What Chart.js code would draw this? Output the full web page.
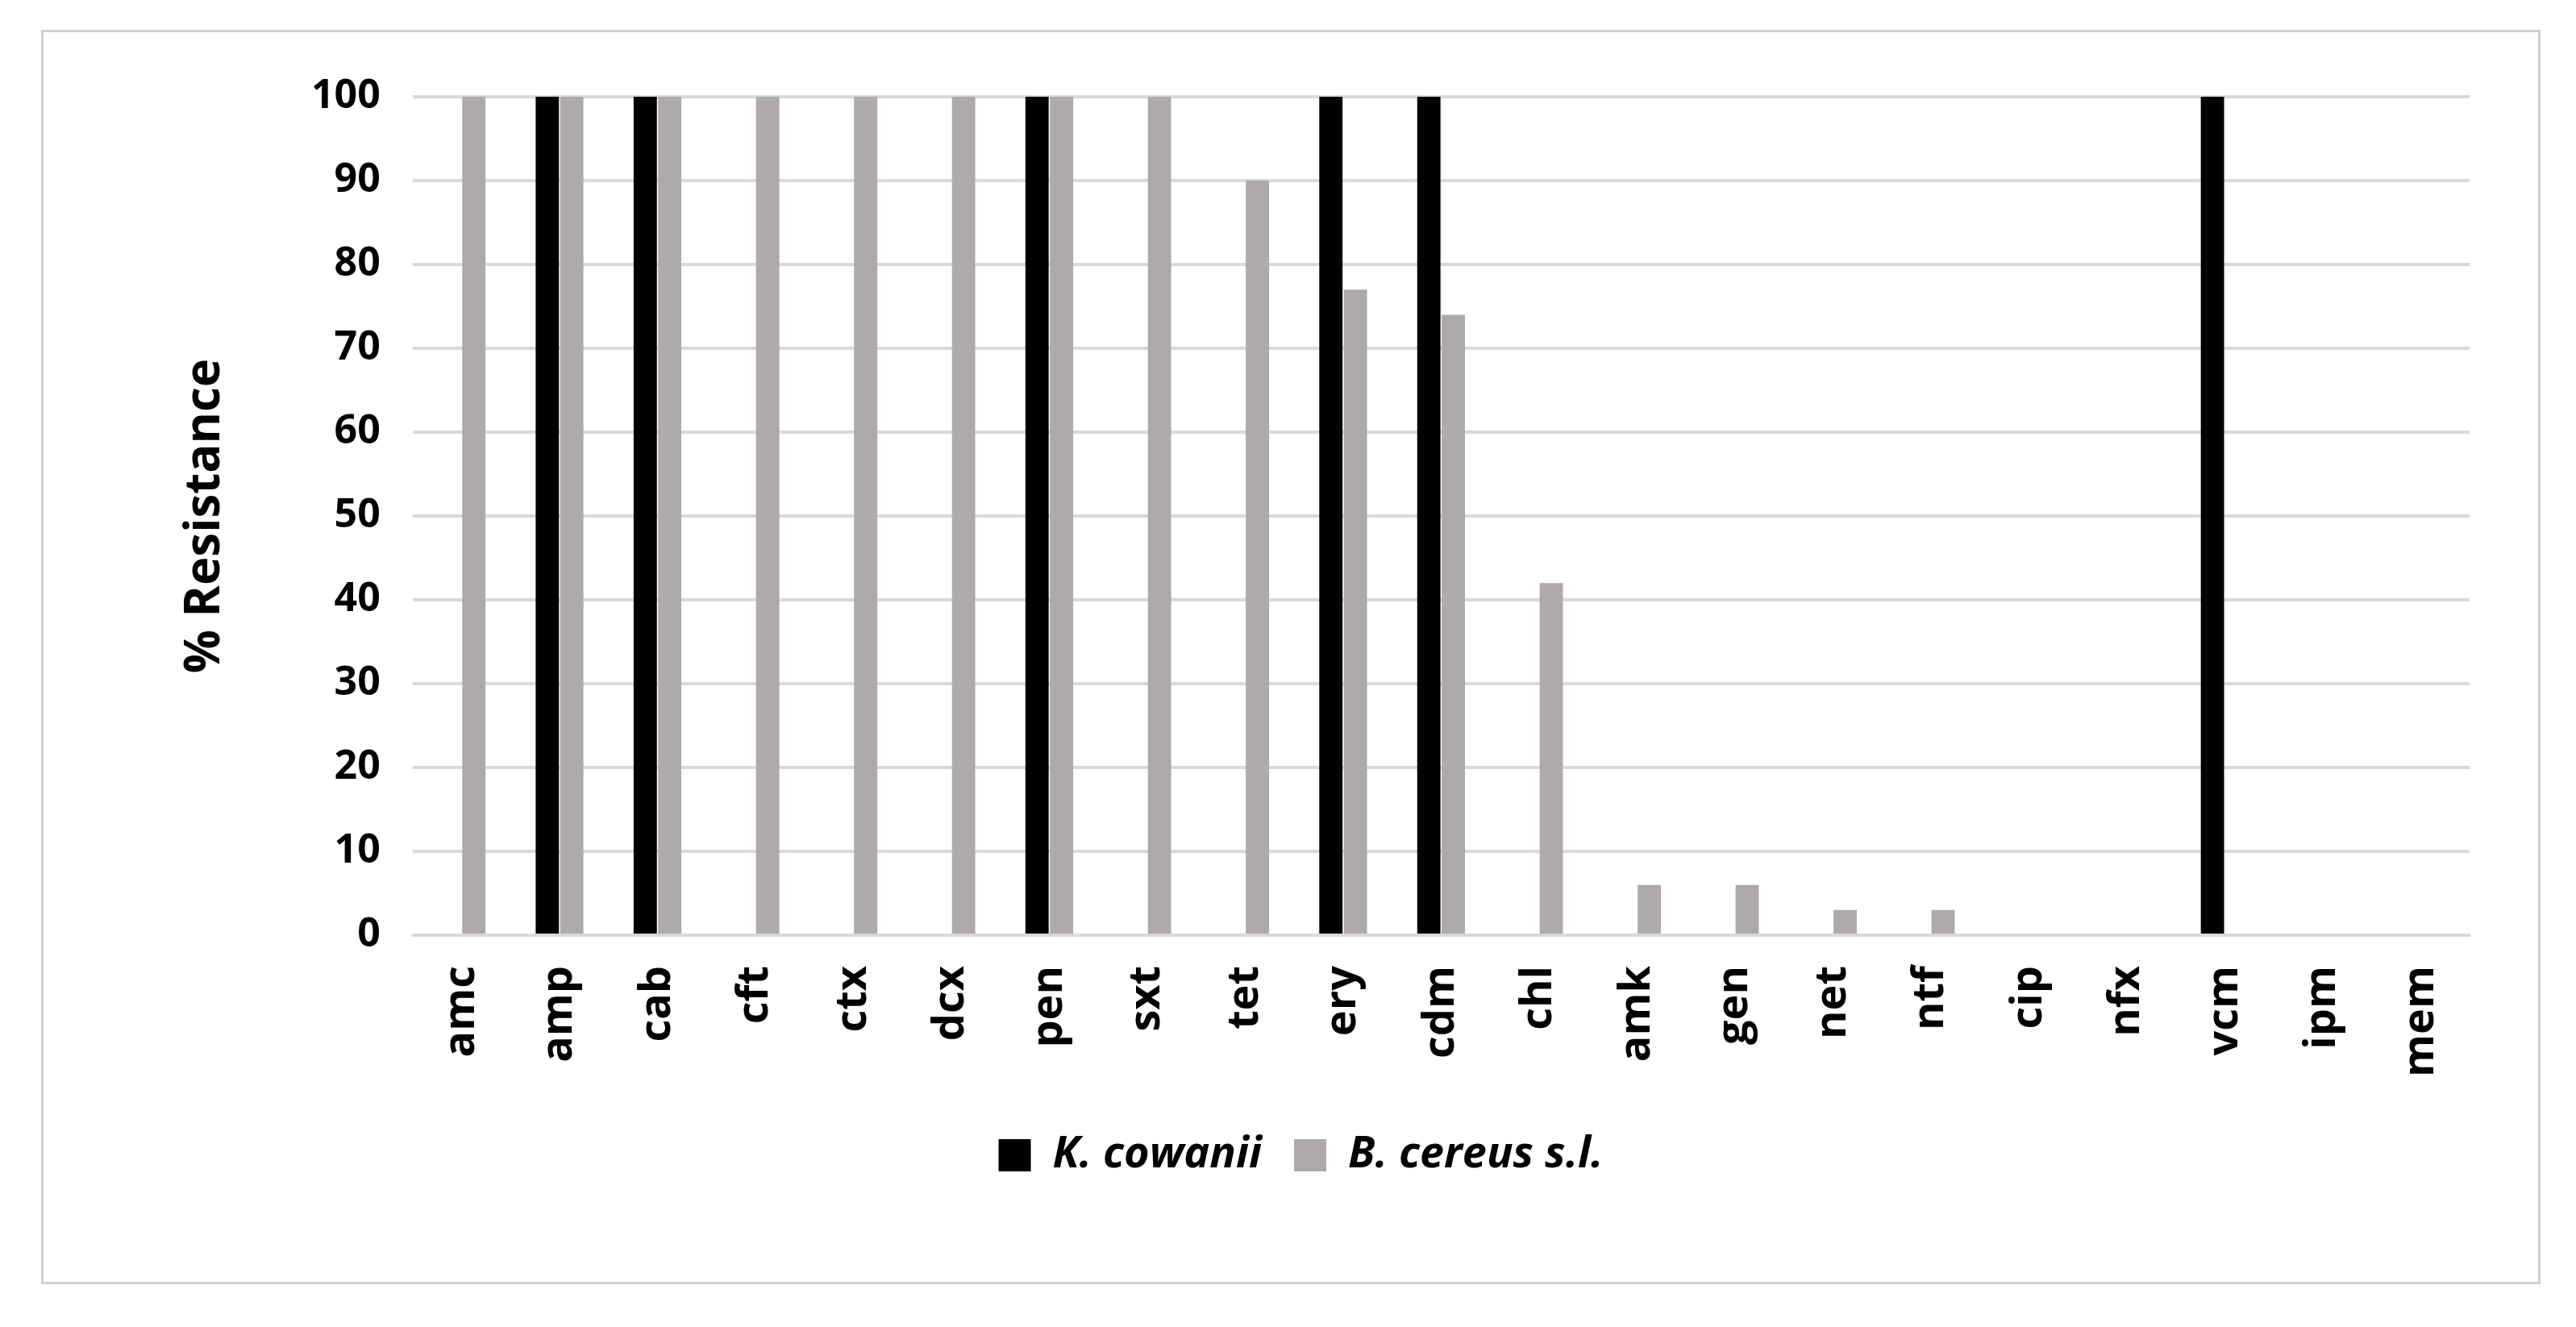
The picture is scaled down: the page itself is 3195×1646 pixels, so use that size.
<!DOCTYPE html>
<html>
<head>
<meta charset="utf-8">
<script src="https://cdn.jsdelivr.net/npm/chart.js"></script>
<style>
  html, body { margin: 0; padding: 0; background: #fff; }
  #box {
    position: absolute; left: 51px; top: 37px; width: 3100px; height: 1556px;
    border: 3px solid #d0d0d0; box-sizing: border-box;
  }
  canvas { display: block; }
</style>
</head>
<body>
<div id="box"><canvas id="myChart"></canvas></div>
<script>
const categories = ['amc', 'amp', 'cab', 'cft', 'ctx', 'dcx', 'pen', 'sxt', 'tet', 'ery', 'cdm',
    'chl', 'amk', 'gen', 'net', 'ntf', 'cip', 'nfx', 'vcm', 'ipm', 'mem'];
const cowanii = [0, 100, 100, 0, 0, 0, 100, 0, 0, 100, 100, 0, 0, 0, 0, 0, 0, 0, 100, 0, 0];
const cereus = [100, 100, 100, 100, 100, 100, 100, 100, 90, 77, 74, 42, 6, 6, 3, 3, 0, 0, 0, 0, 0];
const yTicks = [0, 10, 20, 30, 40, 50, 60, 70, 80, 90, 100];

const canvas = document.getElementById('myChart');
canvas.width = 3094;
canvas.height = 1550;
canvas.style.width = '3094px';
canvas.style.height = '1550px';

const font = "'Open Sans', 'Liberation Sans', sans-serif";

// legend sits lower, leave room above it
const legendGap = {
    id: 'legendGap',
    beforeInit(chart) {
        const fit = chart.legend.fit;
        chart.legend.fit = function () {
            fit.bind(chart.legend)();
            this.height += 60;
        };
    }
};

new Chart(canvas.getContext('2d'), {
    type: 'bar',
    data: {
        labels: categories,
        datasets: [{
            label: 'K. cowanii',
            data: cowanii,
            backgroundColor: '#000000',
            categoryPercentage: 0.5,
            barPercentage: 0.95
        }, {
            label: 'B. cereus s.l.',
            data: cereus,
            backgroundColor: '#aeaaaa',
            categoryPercentage: 0.5,
            barPercentage: 0.95
        }]
    },
    options: {
        responsive: false,
        animation: false,
        layout: { padding: { left: 110, right: 85, top: 80, bottom: 60 } },
        plugins: {
            legend: {
                position: 'bottom',
                labels: {
                    boxWidth: 40, boxHeight: 40, padding: 40,
                    color: '#000',
                    font: { family: font, size: 54, weight: 'bold', style: 'italic' }
                }
            },
            tooltip: { enabled: false }
        },
        scales: {
            x: {
                grid: { display: false },
                border: { color: '#d9d9d9', width: 3 },
                ticks: {
                    color: '#000', maxRotation: 90, minRotation: 90, padding: 30,
                    font: { family: font, size: 54, weight: 'bold' }
                }
            },
            y: {
                min: 0, max: 100,
                afterBuildTicks: axis => { axis.ticks = yTicks.map(v => ({ value: v })); },
                grid: { color: '#d9d9d9', lineWidth: 4, drawTicks: false },
                border: { display: false },
                ticks: {
                    color: '#000', padding: 40,
                    font: { family: font, size: 50, weight: 'bold' }
                },
                title: {
                    display: true, text: '% Resistance', color: '#000', padding: 55,
                    font: { family: font, size: 60, weight: 'bold' }
                }
            }
        }
    },
    plugins: [legendGap]
});
</script>
</body>
</html>
